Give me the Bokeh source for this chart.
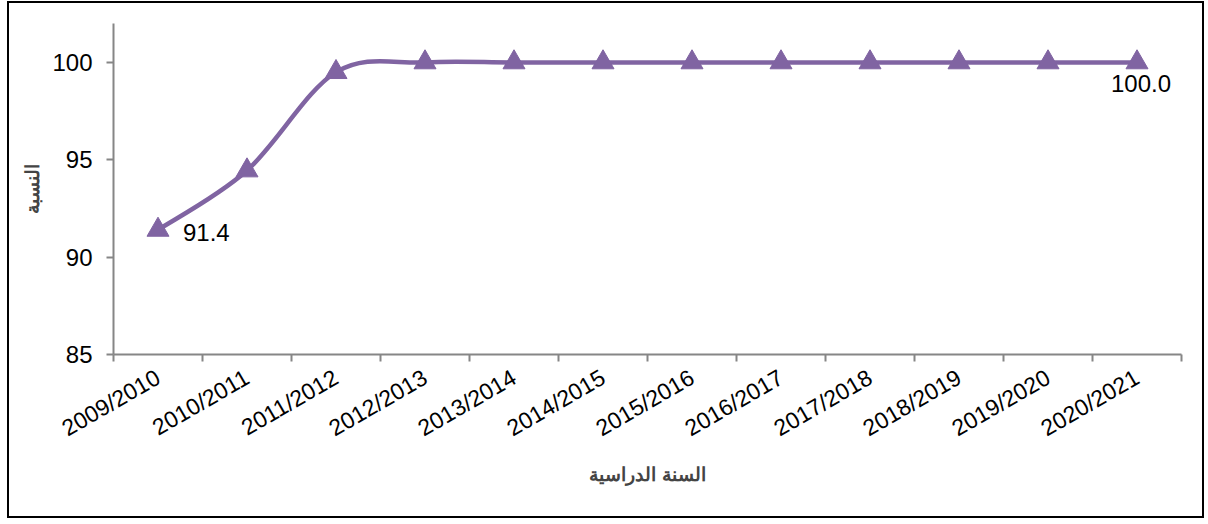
from bokeh.plotting import figure
from bokeh.models import Range1d, FixedTicker, ColumnDataSource
from bokeh.core.properties import value
from bokeh.embed import file_html
from bokeh.resources import INLINE
import math

years = ["2009/2010", "2010/2011", "2011/2012", "2012/2013", "2013/2014", "2014/2015",
         "2015/2016", "2016/2017", "2017/2018", "2018/2019", "2019/2020", "2020/2021"]
ratio = [91.4, 94.45, 99.5, 100.0, 100.0, 100.0, 100.0, 100.0, 100.0, 100.0, 100.0, 100.0]
y_ticks = [85, 90, 95, 100]
x_title = "السنة الدراسية"
y_title = "النسبة"
color = "#8064A2"
font = "Liberation Sans"

n = len(years)
xs = [i + 0.5 for i in range(n)]

p = figure(width=1197, height=517, output_backend="svg", toolbar_location=None,
           x_range=Range1d(0, n), y_range=Range1d(85, 102),
           min_border_left=104, min_border_right=25, min_border_top=20, min_border_bottom=166)
p.styles = {"border": "2px solid black", "margin-left": "7px", "margin-top": "1px"}
p.outline_line_color = None
p.xgrid.grid_line_color = None
p.ygrid.grid_line_color = None
p.background_fill_color = "white"

# smoothed line (Excel-style Catmull-Rom bezier through the data points)
def pt(i):
    i = min(max(i, 0), n - 1)
    return xs[i], ratio[i]

bz = dict(x0=[], y0=[], x1=[], y1=[], cx0=[], cy0=[], cx1=[], cy1=[])
for i in range(n - 1):
    xa, ya = pt(i)
    xb, yb = pt(i + 1)
    xp, yp = pt(i - 1)
    xn, yn = pt(i + 2)
    bz["x0"].append(xa); bz["y0"].append(ya)
    bz["x1"].append(xb); bz["y1"].append(yb)
    bz["cx0"].append(xa + (xb - xp) / 6); bz["cy0"].append(ya + (yb - yp) / 6)
    bz["cx1"].append(xb - (xn - xa) / 6); bz["cy1"].append(yb - (yn - ya) / 6)
p.bezier(source=ColumnDataSource(bz), x0="x0", y0="y0", x1="x1", y1="y1",
         cx0="cx0", cy0="cy0", cx1="cx1", cy1="cy1", line_color=color, line_width=4.5)

p.scatter(xs, ratio, marker="triangle", size=22, fill_color=color, line_color=color)

# data labels (first and last)
p.text([xs[0]], [ratio[0]], text=[f"{ratio[0]:.1f}"], x_offset=25, y_offset=3,
       text_align="left", text_baseline="middle", text_font=value(font),
       text_font_size="24px", text_color="black")
p.text([xs[-1]], [ratio[-1]], text=[f"{ratio[-1]:.1f}"], x_offset=4, y_offset=13,
       text_align="center", text_baseline="top", text_font=value(font),
       text_font_size="24px", text_color="black")

# axes
ax = p.xaxis[0]
ax.ticker = FixedTicker(ticks=xs, minor_ticks=list(range(n + 1)))
ax.major_label_overrides = {x: y for x, y in zip(xs, years)}
ax.major_tick_line_color = None
ax.minor_tick_line_color = "#868686"
ax.minor_tick_out = 7
ax.minor_tick_in = 0
ax.axis_line_color = "#868686"
ax.axis_line_width = 2
ax.minor_tick_line_width = 2
ax.major_label_orientation = math.radians(30)
ax.major_label_text_font = font
ax.major_label_text_font_size = "23px"
ax.major_label_text_color = "black"
ax.major_label_standoff = 14
ax.axis_label = x_title
ax.axis_label_text_font = font
ax.axis_label_text_font_style = "bold"
ax.axis_label_text_font_size = "19px"
ax.axis_label_standoff = 9

ay = p.yaxis[0]
ay.ticker = FixedTicker(ticks=y_ticks, minor_ticks=[])
ay.axis_line_color = "#868686"
ay.axis_line_width = 2
ay.major_tick_line_color = "#868686"
ay.major_tick_line_width = 2
ay.major_tick_out = 7
ay.major_tick_in = 0
ay.major_label_text_font = font
ay.major_label_text_font_size = "24px"
ay.major_label_text_color = "black"
ay.major_label_standoff = 14
ay.axis_label = y_title
ay.axis_label_text_font = font
ay.axis_label_text_font_style = "bold"
ay.axis_label_text_font_size = "19px"
ay.axis_label_standoff = 6

open("out.html", "w").write(file_html(p, INLINE))
